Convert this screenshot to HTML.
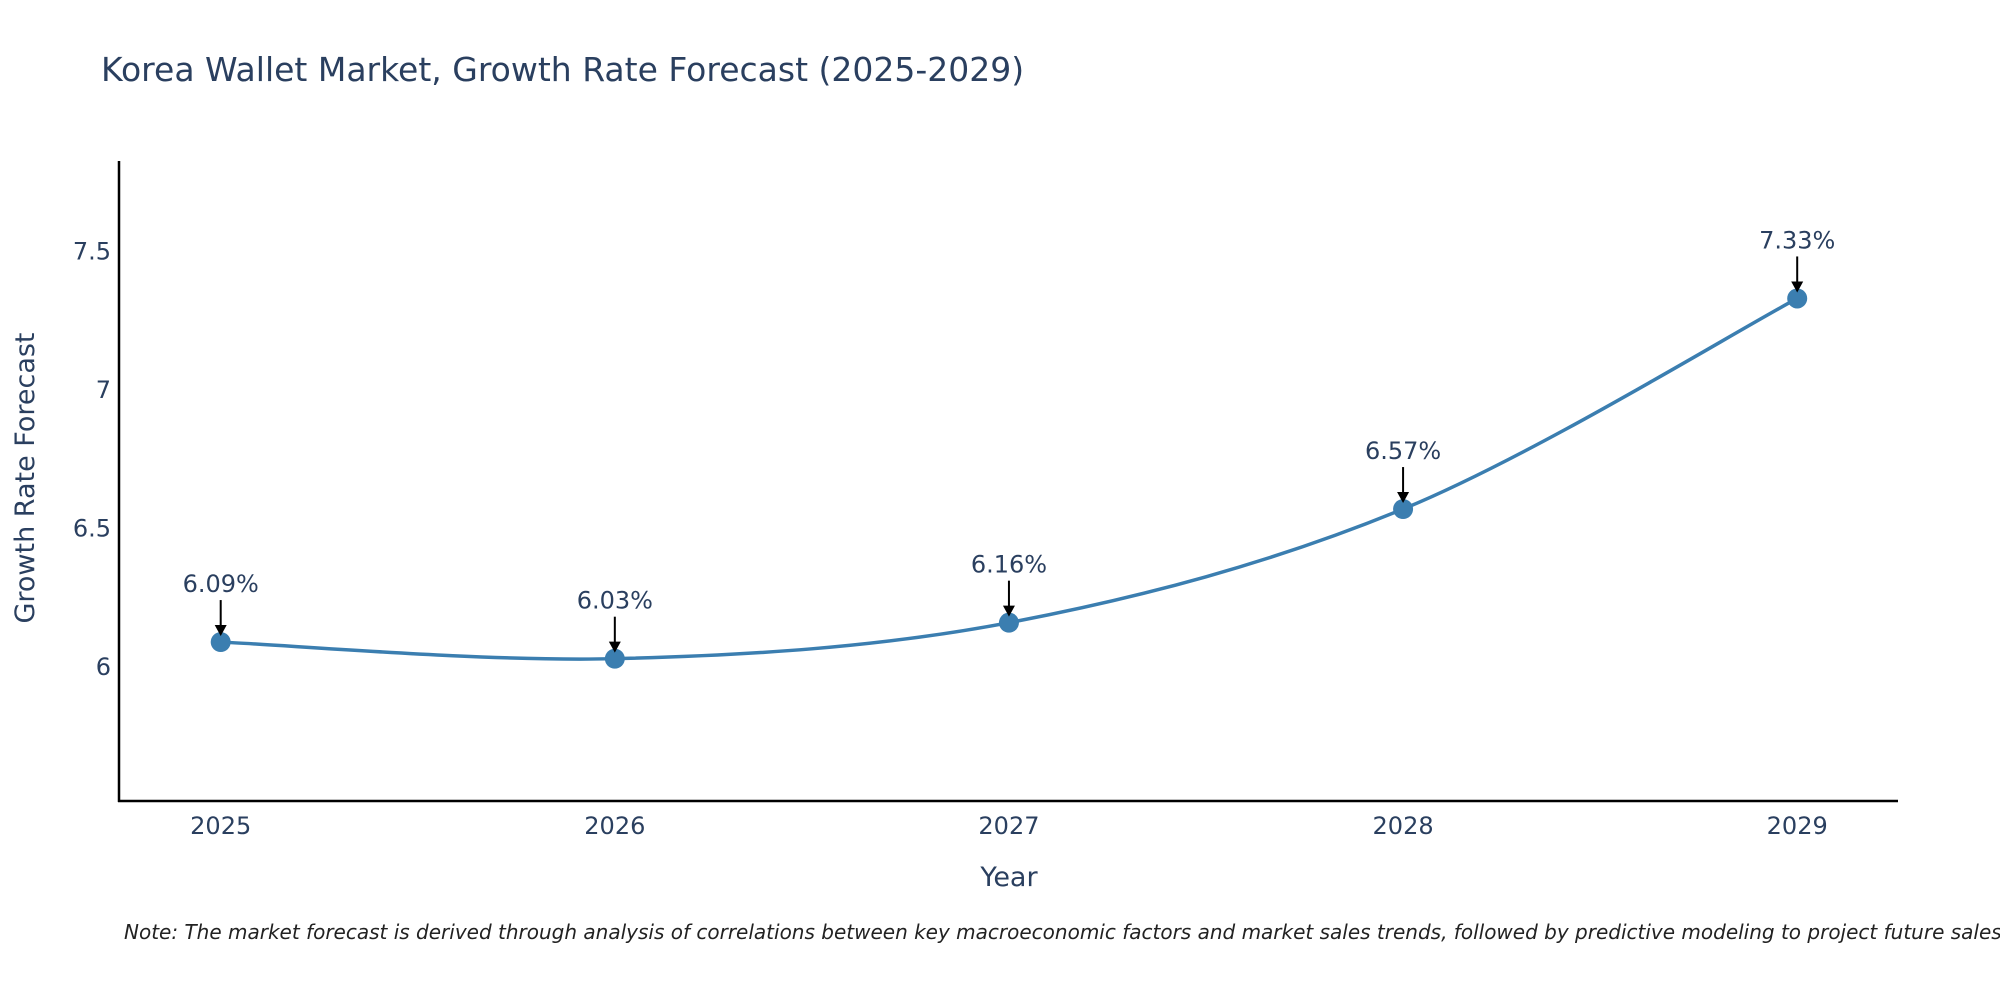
<!DOCTYPE html>
<html><head><meta charset="utf-8"><style>
body{margin:0;background:#fff;}
svg text{font-family:"DejaVu Sans","Liberation Sans",sans-serif;}
</style></head><body>
<svg id="chart" width="2000" height="1000" xmlns="http://www.w3.org/2000/svg">
<rect width="2000" height="1000" fill="#fff"/>
<text x="101" y="81" font-size="33" fill="#2a3f5f">Korea Wallet Market, Growth Rate Forecast (2025-2029)</text>
<g id="axes"></g>
<g id="series"></g>
<text x="1009" y="886" font-size="27" fill="#2a3f5f" text-anchor="middle">Year</text>
<text transform="translate(34,478) rotate(-90)" font-size="27" fill="#2a3f5f" text-anchor="middle">Growth Rate Forecast</text>
<text x="124" y="939" font-size="20" font-style="italic" fill="#222">Note: The market forecast is derived through analysis of correlations between key macroeconomic factors and market sales trends, followed by predictive modeling to project future sales.</text>
</svg>
<script>
const years=[2025,2026,2027,2028,2029];
const values=[6.09,6.03,6.16,6.57,7.33];
const labels=["6.09%","6.03%","6.16%","6.57%","7.33%"];
const yTicks=[6,6.5,7,7.5];
const NS="http://www.w3.org/2000/svg";
const X0=119,X1=1898,Y0=161,Y1=801;
const xs=y=>220.7+(y-2025)*(1797.2-220.7)/4;
const ys=v=>667-(v-6)*277.1;
function mk(t,a,p){const e=document.createElementNS(NS,t);for(const k in a)e.setAttribute(k,a[k]);p.appendChild(e);return e;}
const ax=document.getElementById('axes'),sg=document.getElementById('series');
let l=mk('line',{x1:X0,y1:Y0,x2:X0,y2:Y1+1,stroke:'#000','stroke-width':2.5},ax);


l=mk('line',{x1:X0-1,y1:Y1,x2:X1,y2:Y1,stroke:'#000','stroke-width':2.5},ax);


yTicks.forEach(v=>{const t=mk('text',{x:X0-8,y:ys(v)+8,'font-size':24,fill:'#2a3f5f','text-anchor':'end'},ax);t.textContent=String(v);

});
years.forEach(y=>{const t=mk('text',{x:xs(y),y:834,'font-size':24,fill:'#2a3f5f','text-anchor':'middle'},ax);t.textContent=String(y);

});
const P=years.map((y,i)=>[xs(y),ys(values[i])]);
let d=`M${P[0][0]},${P[0][1]}`;
for(let i=0;i<P.length-1;i++){const p0=P[i-1]||P[i],p1=P[i],p2=P[i+1],p3=P[i+2]||P[i+1];const k=1/6;
d+=` C${p1[0]+(p2[0]-p0[0])*k},${p1[1]+(p2[1]-p0[1])*k} ${p2[0]-(p3[0]-p1[0])*k},${p2[1]-(p3[1]-p1[1])*k} ${p2[0]},${p2[1]}`;}
const path=mk('path',{d:d,fill:'none',stroke:'#3b7eb0','stroke-width':3.5},sg);


P.forEach((p,i)=>{const c=mk('circle',{cx:p[0],cy:p[1],r:10,fill:'#3b7eb0'},sg);


const a=mk('line',{x1:p[0],y1:p[1]-42,x2:p[0],y2:p[1]-16,stroke:'#000','stroke-width':2},sg);


const h=mk('polygon',{points:`${p[0]-6},${p[1]-17} ${p[0]+6},${p[1]-17} ${p[0]},${p[1]-6}`,fill:'#000'},sg);


const t=mk('text',{x:p[0],y:p[1]-50,'font-size':24,fill:'#2a3f5f','text-anchor':'middle'},sg);t.textContent=labels[i];

});
</script>
</body></html>
